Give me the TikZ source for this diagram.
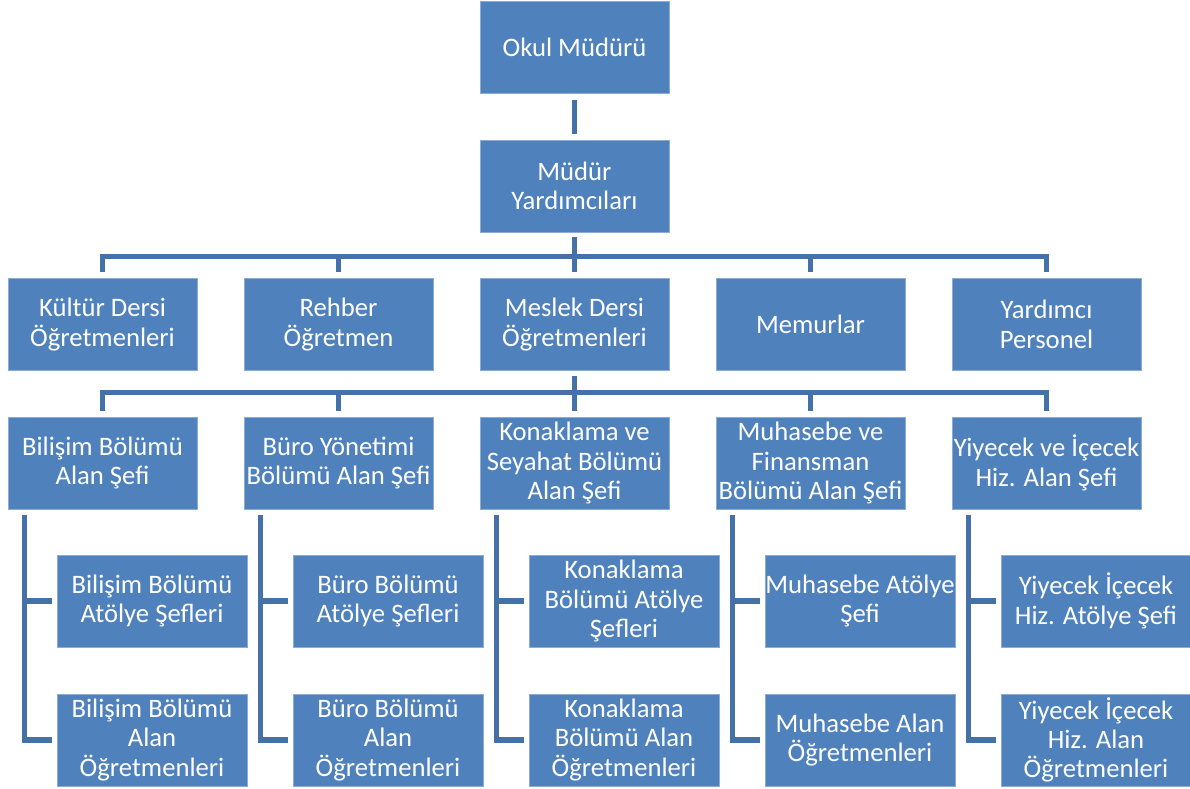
\documentclass[tikz,border=0pt]{standalone}
\usepackage{fontspec}
\setmainfont{Carlito}
\usetikzlibrary{calc}
\definecolor{boxblue}{RGB}{79,129,189}
\definecolor{boxedge}{RGB}{140,172,214}
\definecolor{linkblue}{RGB}{68,114,168}
\tikzset{
  orgbox/.style={rectangle, fill=boxblue, draw=boxedge, line width=0.6pt,
    minimum width=141.75pt, minimum height=69pt, inner xsep=0pt, inner ysep=0pt,
    text=white, align=center, font=\fontsize{20pt}{22pt}\selectfont},
  kidbox/.style={orgbox, minimum width=142.5pt},
  conn/.style={draw=linkblue, line width=3.9pt, line join=miter, line cap=butt},
}
\begin{document}
\begin{tikzpicture}[x=0.75pt,y=-0.75pt]
\useasboundingbox (0,0) rectangle (1190,789);
% top
\node[orgbox] (okul) at (574.5,47.5) {Okul Müdürü};
\node[orgbox] (my) at (574.5,186) {Müdür\\Yardımcıları};
% row 2
\node[orgbox] (c1) at (102.5,324.5) {Kültür Dersi\\Öğretmenleri};
\node[orgbox] (c2) at (338.5,324.5) {Rehber\\Öğretmen};
\node[orgbox] (c3) at (574.5,324.5) {Meslek Dersi\\Öğretmenleri};
\node[orgbox] (c4) at (810.5,324.5) {Memurlar};
\node[orgbox] (c5) at (1046.5,324.5) {Yardımcı\\Personel};
% row 3
\node[orgbox] (d1) at (102.5,463) {Bilişim Bölümü\\Alan Şefi};
\node[orgbox] (d2) at (338.5,463) {Büro Yönetimi\\Bölümü Alan Şefi};
\node[orgbox] (d3) at (574.5,463) {Konaklama ve\\Seyahat Bölümü\\Alan Şefi};
\node[orgbox] (d4) at (810.5,463) {Muhasebe ve\\Finansman\\Bölümü Alan Şefi};
\node[orgbox] (d5) at (1046.5,463) {Yiyecek ve İçecek\\Hiz. Alan Şefi};
% row 4
\node[kidbox] (e1) at (152,601) {Bilişim Bölümü\\Atölye Şefleri};
\node[kidbox] (e2) at (388,601) {Büro Bölümü\\Atölye Şefleri};
\node[kidbox] (e3) at (624,601) {Konaklama\\Bölümü Atölye\\Şefleri};
\node[kidbox] (e4) at (860,601) {Muhasebe Atölye\\Şefi};
\node[kidbox] (e5) at (1096,601) {Yiyecek İçecek\\Hiz. Atölye Şefi};
% row 5
\node[kidbox] (f1) at (152,740) {Bilişim Bölümü\\Alan\\Öğretmenleri};
\node[kidbox] (f2) at (388,740) {Büro Bölümü\\Alan\\Öğretmenleri};
\node[kidbox] (f3) at (624,740) {Konaklama\\Bölümü Alan\\Öğretmenleri};
\node[kidbox] (f4) at (860,740) {Muhasebe Alan\\Öğretmenleri};
\node[kidbox] (f5) at (1096,740) {Yiyecek İçecek\\Hiz. Alan\\Öğretmenleri};
% connectors top
\draw[conn] ($(okul.south)+(0,6)$) -- ($(my.north)+(0,-6)$);
\coordinate (h1) at ($(my.south)+(0,24)$);
\draw[conn] ($(my.south)+(0,5)$) -- (h1);
\draw[conn] ($(c1.north)+(0,-6)$) |- ($(c5.north)+(0,-22)$) -- ($(c5.north)+(0,-6)$);
\foreach \n in {c2,c3,c4} {
  \draw[conn] ($(\n.north)+(0,-23)$) -- ($(\n.north)+(0,-6)$);
}
% connectors row2 -> row3
\coordinate (h2) at ($(c3.south)+(0,22)$);
\draw[conn] ($(c3.south)+(0,5)$) -- (h2);
\draw[conn] ($(d1.north)+(0,-6)$) |- ($(d5.north)+(0,-24)$) -- ($(d5.north)+(0,-6)$);
\foreach \n in {d2,d3,d4} {
  \draw[conn] ($(\n.north)+(0,-25)$) -- ($(\n.north)+(0,-6)$);
}
% connectors row3 -> children
\foreach \d/\e/\f in {d1/e1/f1,d2/e2/f2,d3/e3/f3,d4/e4/f4,d5/e5/f5} {
  \coordinate (v-\d) at ($(\d.south west)+(17,6)$);
  \draw[conn] (v-\d) |- ($(\f.west)+(-5,0)$);
  \draw[conn] (v-\d |- \e.west) -- ($(\e.west)+(-5,0)$);
}
\end{tikzpicture}
\end{document}
